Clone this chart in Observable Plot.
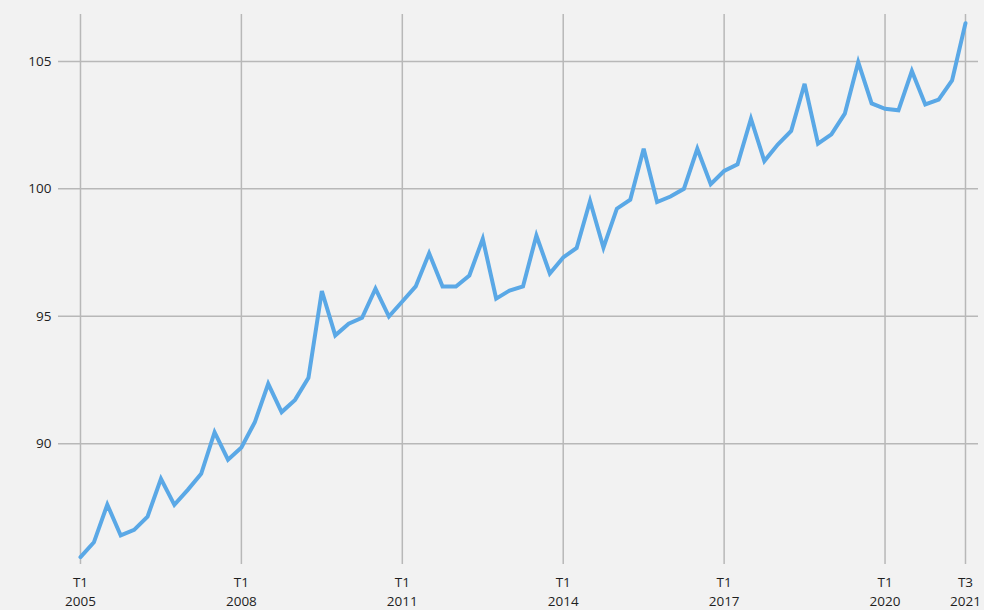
<!DOCTYPE html>
<html>
<head>
<meta charset="utf-8">
<script src="https://cdn.jsdelivr.net/npm/d3@7"></script>
<script src="https://cdn.jsdelivr.net/npm/@observablehq/plot@0.6"></script>
<style>
  html, body { margin: 0; padding: 0; background: #f2f2f2; }
  #chart { width: 984px; height: 610px; overflow: hidden; }
</style>
</head>
<body>
<div id="chart"></div>
<script>
const startYear = 2005;
const values = [
  85.55, 86.13, 87.61, 86.40,
  86.62, 87.14, 88.62, 87.60,
  88.19, 88.82, 90.45, 89.37,
  89.85, 90.84, 92.35, 91.24,
  91.72, 92.59, 95.99, 94.25,
  94.71, 94.94, 96.08, 94.99,
  95.58, 96.17, 97.47, 96.17,
  96.17, 96.60, 98.04, 95.69,
  96.01, 96.17, 98.17, 96.68,
  97.31, 97.68, 99.52, 97.69,
  99.22, 99.57, 101.57, 99.48,
  99.70, 100.00, 101.57, 100.18,
  100.70, 100.96, 102.75, 101.09,
  101.74, 102.27, 104.12, 101.77,
  102.14, 102.95, 104.97, 103.35,
  103.14, 103.08, 104.62, 103.31,
  103.50, 104.25, 106.50
];
const xTickIndex = [0, 12, 24, 36, 48, 60, 66];
const xTickLabels = ["T1\n2005", "T1\n2008", "T1\n2011", "T1\n2014", "T1\n2017", "T1\n2020", "T3\n2021"];
const yTicks = [90, 95, 100, 105];

const data = values.map((v, i) => ({
  i,
  year: startYear + Math.floor(i / 4),
  q: "T" + (i % 4 + 1),
  v
}));

const labelOf = new Map(xTickIndex.map((d, k) => [d, xTickLabels[k]]));

const chart = Plot.plot({
  width: 984,
  height: 610,
  marginTop: 14,
  marginBottom: 46,
  marginLeft: 58,
  marginRight: 6,
  style: { background: "#f2f2f2", fontFamily: "'Open Sans', sans-serif", fontSize: "13.5px", color: "#1e1e1e" },
  x: { type: "linear", domain: [-1.64, 66.97] },
  y: { domain: [85.26, 106.84] },
  marks: [
    Plot.ruleY(yTicks, { stroke: "#b8b8b8", strokeWidth: 1.5 }),
    Plot.ruleX(xTickIndex, { stroke: "#b8b8b8", strokeWidth: 1.5 }),
    Plot.line(data, { x: "i", y: "v", stroke: "#5aa8e6", strokeWidth: 4, strokeLinejoin: "miter", strokeMiterlimit: 4 }),
    Plot.axisY({ ticks: yTicks, tickSize: 0, tickPadding: 7, label: null, fontSize: 13.5 }),
    Plot.axisX({ ticks: xTickIndex, tickSize: 0, tickPadding: 9, label: null, fontSize: 13.5, lineHeight: 1.42, tickFormat: d => labelOf.get(d) })
  ]
});
document.getElementById("chart").appendChild(chart);
</script>
</body>
</html>
